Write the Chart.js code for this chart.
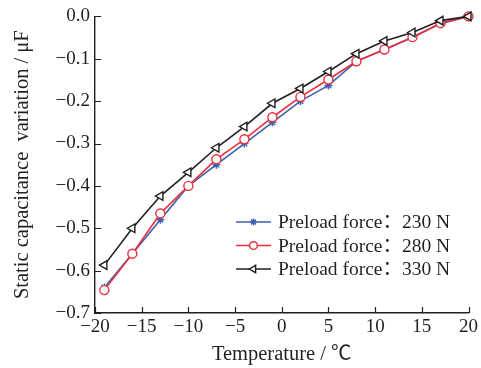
<!DOCTYPE html>
<html>
<head>
<meta charset="utf-8">
<script src="https://cdn.jsdelivr.net/npm/chart.js@4.4.0/dist/chart.umd.min.js"></script>
<style>
  html, body { margin:0; padding:0; background:#fff; }
  #wrap { width:481px; height:368px; }
</style>
</head>
<body>
<div id="wrap"><canvas id="chart"></canvas></div>
<script>
/* ======= Data ======= */
const temps   = [-19, -16, -13, -10, -7, -4, -1, 2, 5, 8, 11, 14, 17, 20];
const cap230  = [-0.64, -0.56, -0.48, -0.40, -0.35, -0.30, -0.25, -0.20, -0.163, -0.106, -0.078, -0.05, -0.017, 0.0];
const cap280  = [-0.646, -0.56, -0.465, -0.40, -0.337, -0.29, -0.238, -0.19, -0.149, -0.106, -0.078, -0.049, -0.016, 0.0];
const cap330  = [-0.587, -0.50, -0.424, -0.368, -0.31, -0.26, -0.205, -0.17, -0.13, -0.088, -0.058, -0.038, -0.01, 0.0];
const seriesLabels = ['Preload force：230 N', 'Preload force：280 N', 'Preload force：330 N'];
const xTicks = [-20, -15, -10, -5, 0, 5, 10, 15, 20];
const yTicks = [0, -0.1, -0.2, -0.3, -0.4, -0.5, -0.6, -0.7];

/* ======= Style ======= */
const FONT = '"Liberation Serif", "Noto Sans CJK SC", serif';
const INK = '#231f20';
const BLUE = '#3a62b0', RED = '#ec2f3a', BLACK = '#231f20';

const pts = arr => arr.map((v, i) => ({ x: temps[i], y: v }));
const fmtMinus = s => s.replace('-', '\u2212');

const styles = [
  { color: BLUE,  pointStyle: 'star',     radius: 4,   rotation: 0,   fill: BLUE },
  { color: RED,   pointStyle: 'circle',   radius: 4.5, rotation: 0,   fill: '#fff' },
  { color: BLACK, pointStyle: 'triangle', radius: 5,   rotation: -90, fill: '#fff' }
];

/* ticks pointing inward + legend inside the plot */
const inwardTicks = {
  id: 'inwardTicks',
  afterDraw(chart) {
    const { ctx, scales: { x, y }, chartArea: a } = chart;
    ctx.save();
    ctx.strokeStyle = INK;
    ctx.lineWidth = 1.2;
    ctx.beginPath();
    for (const t of xTicks) {
      const px = Math.round(x.getPixelForValue(t)) + 0.5;
      ctx.moveTo(px, a.bottom); ctx.lineTo(px, a.bottom - 6);
    }
    for (const t of yTicks) {
      const py = Math.round(y.getPixelForValue(t)) + 0.5;
      ctx.moveTo(a.left, py); ctx.lineTo(a.left + 6, py);
    }
    ctx.stroke();
    ctx.restore();
  }
};

const innerLegend = {
  id: 'innerLegend',
  afterDraw(chart) {
    const ctx = chart.ctx;
    const x0 = 236, x1 = 271, tx = 278;
    const rows = [222, 245.5, 269];
    ctx.save();
    ctx.font = '19.5px ' + FONT;
    ctx.textBaseline = 'middle';
    ctx.textAlign = 'left';
    seriesLabels.forEach((lab, i) => {
      const s = styles[i];
      const yy = rows[i];
      ctx.strokeStyle = s.color;
      ctx.lineWidth = 1.6;
      ctx.beginPath(); ctx.moveTo(x0, yy); ctx.lineTo(x1, yy); ctx.stroke();
      ctx.fillStyle = s.fill;
      ctx.lineWidth = 1.4;
      Chart.helpers.drawPoint(ctx, { pointStyle: s.pointStyle, radius: s.radius * 0.85, rotation: s.rotation, borderWidth: 1.4 }, (x0 + x1) / 2, yy);
      ctx.fillStyle = INK;
      ctx.fillText(lab, tx, yy + 1);
    });
    ctx.restore();
  }
};

const makeSet = (i, data, order) => ({
  label: seriesLabels[i],
  data: pts(data),
  borderColor: styles[i].color,
  backgroundColor: styles[i].fill,
  borderWidth: 1.6,
  pointStyle: styles[i].pointStyle,
  pointRadius: styles[i].radius,
  pointRotation: styles[i].rotation,
  pointBorderWidth: 1.4,
  pointBorderColor: styles[i].color,
  pointBackgroundColor: styles[i].fill,
  tension: 0,
  clip: false,
  order: order
});

new Chart(document.getElementById('chart'), {
  type: 'line',
  data: {
    datasets: [makeSet(2, cap330, 1), makeSet(1, cap280, 2), makeSet(0, cap230, 3)]
  },
  options: {
    responsive: true, maintainAspectRatio: false, animation: false,
    layout: { padding: { top: 14, right: 8, left: 0, bottom: 0 } },
    plugins: { legend: { display: false }, tooltip: { enabled: false } },
    scales: {
      x: {
        type: 'linear', min: -20, max: 20,
        grid: { display: false, drawTicks: false },
        border: { display: true, color: INK, width: 1.4 },
        afterBuildTicks: s => { s.ticks = xTicks.map(v => ({ value: v })); },
        afterFit: s => { s.height = 55; },
        ticks: {
          color: INK, padding: 3, maxRotation: 0, autoSkip: false,
          font: { family: FONT, size: 19 },
          callback: v => fmtMinus(String(v))
        },
        title: {
          display: true, text: 'Temperature / ℃', color: INK,
          font: { family: FONT, size: 20.5 }, padding: { top: 0, bottom: 1 }
        }
      },
      y: {
        type: 'linear', min: -0.7, max: 0,
        grid: { display: false, drawTicks: false },
        border: { display: true, color: INK, width: 1.4 },
        afterBuildTicks: s => { s.ticks = yTicks.map(v => ({ value: v })); },
        afterFit: s => { s.width = 95; },
        ticks: {
          color: INK, padding: 5, autoSkip: false,
          font: { family: FONT, size: 19 },
          callback: v => fmtMinus((Math.abs(v) < 1e-9 ? 0 : v).toFixed(1))
        },
        title: {
          display: true, text: 'Static capacitance  variation / μF', color: INK,
          font: { family: FONT, size: 20.5 }, padding: { top: 10, bottom: 0 }
        }
      }
    }
  },
  plugins: [inwardTicks, innerLegend]
});
</script>
</body>
</html>
